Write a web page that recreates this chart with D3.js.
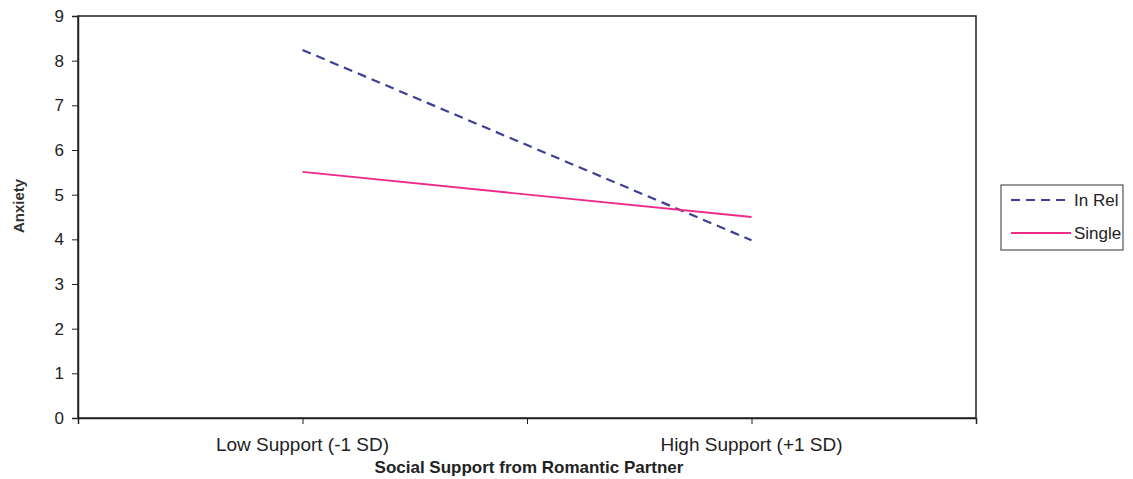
<!DOCTYPE html>
<html><head><meta charset="utf-8">
<script src="https://cdn.jsdelivr.net/npm/d3@7"></script>
<style>body{margin:0;background:#fff;}svg{display:block;font-family:"Liberation Sans",Arial,sans-serif;}</style>
</head><body>
<svg id="c" width="1133" height="479"></svg>
<script>
const categories = ["Low Support (-1 SD)", "High Support (+1 SD)"];
const inRel = [8.24, 3.98];
const single = [5.51, 4.50];
const yTicks = [0,1,2,3,4,5,6,7,8,9];
const seriesNames = ["In Rel", "Single"];

const svg = d3.select("#c");
const L = 78, R = 976, T = 16, B = 418;
const x = d3.scalePoint().domain(categories).range([L, R]).padding(0.5);
const xb = d3.scaleLinear().domain([0, 2]).range([L, R]);
const y = d3.scaleLinear().domain([0, 9]).range([B, T]);

// plot border
svg.append("rect").attr("x", L).attr("y", T).attr("width", R - L).attr("height", B - T)
  .attr("fill", "none").attr("stroke", "#222").attr("stroke-width", 1.5);

// y axis
const ya = svg.append("g").attr("transform", `translate(${L},0)`)
  .call(d3.axisLeft(y).tickValues(yTicks).tickSize(6).tickPadding(8).tickFormat(d3.format("d")));
ya.select(".domain").attr("stroke", "#222").attr("stroke-width", 1.5);
ya.selectAll(".tick line").attr("stroke", "#222");
ya.selectAll("text").attr("font-size", 17).attr("fill", "#222").attr("font-family", "Liberation Sans, Arial, sans-serif");

// x axis
const xa = svg.append("g").attr("transform", `translate(0,${B})`)
  .call(d3.axisBottom(xb).tickValues([0, 0.5, 1, 1.5, 2]).tickSize(6).tickFormat(""));
xa.select(".domain").attr("stroke", "#222").attr("stroke-width", 1.5);
xa.selectAll(".tick line").attr("stroke", "#222");
svg.append("g").selectAll("text").data(categories).join("text")
  .attr("x", d => x(d)).attr("y", 451).attr("text-anchor", "middle")
  .attr("font-size", 19).attr("fill", "#222").text(d => d);

// titles
svg.append("text").attr("x", 529).attr("y", 473).attr("text-anchor", "middle")
  .attr("font-size", 17).attr("font-weight", "bold").attr("fill", "#222")
  .text("Social Support from Romantic Partner");
svg.append("text").attr("transform", `translate(24,206) rotate(-90)`)
  .attr("text-anchor", "middle").attr("font-size", 15).attr("font-weight", "bold").attr("fill", "#333")
  .text("Anxiety");

// lines
const line = d3.line().x((d, i) => x(categories[i])).y(d => y(d));
svg.append("path").datum(inRel).attr("d", line).attr("fill", "none")
  .attr("stroke", "#3f3f96").attr("stroke-width", 2.2).attr("stroke-dasharray", "9,6");
svg.append("path").datum(single).attr("d", line).attr("fill", "none")
  .attr("stroke", "#ee2a8a").attr("stroke-width", 1.8);

// legend
const lg = svg.append("g");
lg.append("rect").attr("x", 1001).attr("y", 185).attr("width", 122).attr("height", 65)
  .attr("fill", "#fff").attr("stroke", "#555").attr("stroke-width", 1.2);
const styles = [{c: "#3f3f96", d: "9,6", w: 2.2}, {c: "#ee2a8a", d: null, w: 1.8}];
seriesNames.forEach((n, i) => {
  const yy = 200 + i * 33;
  lg.append("line").attr("x1", 1011).attr("x2", 1071).attr("y1", yy).attr("y2", yy)
    .attr("stroke", styles[i].c).attr("stroke-width", styles[i].w).attr("stroke-dasharray", styles[i].d);
  lg.append("text").attr("x", 1074).attr("y", yy + 6).attr("font-size", 17).attr("fill", "#222").text(n);
});
</script>
</body></html>
